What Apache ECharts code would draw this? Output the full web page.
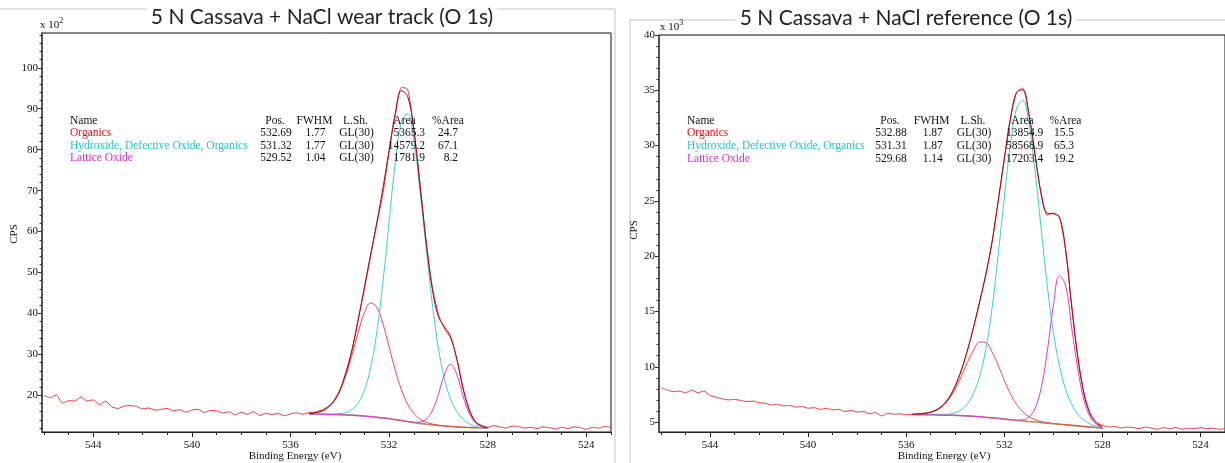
<!DOCTYPE html>
<html><head><meta charset="utf-8">
<script src="https://cdn.jsdelivr.net/npm/echarts@6/dist/echarts.min.js"></script>
<style>html,body{margin:0;padding:0;background:#fff;}#c{width:1225px;height:463px;}</style>
</head><body><div id="c"></div>
<script>
// ---------------- DATA ----------------
const titles = ['5 N Cassava + NaCl wear track (O 1s)', '5 N Cassava + NaCl reference (O 1s)'];
const energyTicks = [544, 540, 536, 532, 528, 524];
const wearYTicks = [20, 30, 40, 50, 60, 70, 80, 90, 100];
const refYTicks = [5, 10, 15, 20, 25, 30, 35, 40];

// raw spectrum energies (eV), shared by both panels
const rawEnergy = [546.0,545.75,545.5,545.25,545.0,544.75,544.5,544.25,544.0,543.75,
  543.5,543.25,543.0,542.75,542.5,542.25,542.0,541.75,541.5,541.25,
  541.0,540.75,540.5,540.25,540.0,539.75,539.5,539.25,539.0,538.75,
  538.5,538.25,538.0,537.75,537.5,537.25,537.0,536.75,536.5,536.25,
  536.0,535.75,535.5,535.25,535.0,534.75,534.5,534.25,534.0,533.75,
  533.5,533.25,533.0,532.75,532.5,532.25,532.0,531.75,531.5,531.25,
  531.0,530.75,530.5,530.25,530.0,529.75,529.5,529.25,529.0,528.75,
  528.5,528.25,528.0,527.75,527.5,527.25,527.0,526.75,526.5,526.25,
  526.0,525.75,525.5,525.25,525.0,524.75,524.5,524.25,524.0,523.75,
  523.5,523.25,523.0];
// wear track raw CPS (x 10^2)
const wearRaw = [20.0,19.4,20.1,18.1,18.7,18.6,19.6,18.6,18.9,17.7,
  18.6,17.2,16.8,17.4,17.5,17.3,16.7,16.9,16.4,16.6,
  16.8,16.2,16.5,15.9,16.4,16.6,15.8,16.3,16.2,15.7,
  16.0,15.2,15.9,15.4,16.0,15.1,15.6,15.3,15.6,15.0,
  15.5,15.7,15.4,15.8,15.9,16.4,17.2,18.4,21.0,25.8,
  31.0,38.8,46.0,54.0,61.8,69.3,79.5,88.5,95.2,94.8,
  85.2,72.0,57.5,46.5,39.8,36.2,34.0,28.9,21.5,16.6,
  13.5,12.7,12.2,12.6,12.3,12.0,12.5,12.4,12.0,12.2,
  11.9,12.3,12.1,11.8,12.2,11.9,12.3,12.1,11.7,12.2,
  12.0,12.4,12.2];
// reference raw CPS (x 10^3)
const refRaw = [8.1,7.9,7.75,7.8,7.65,7.9,7.65,7.8,7.4,7.25,
  7.1,7.0,7.05,6.95,6.85,6.9,6.75,6.7,6.55,6.6,
  6.45,6.5,6.35,6.4,6.25,6.3,6.15,6.25,6.1,6.15,
  5.95,6.05,5.9,5.95,5.75,5.85,5.55,5.8,5.7,5.75,
  5.65,5.7,5.75,5.8,5.9,6.15,6.55,7.25,8.3,9.7,
  11.5,13.6,15.9,18.4,21.3,25.0,28.8,32.4,34.8,35.2,
  32.9,29.3,25.6,23.7,23.9,23.5,20.6,15.5,10.9,7.6,
  5.8,5.0,4.7,4.55,4.6,4.45,4.55,4.5,4.4,4.55,
  4.45,4.35,4.5,4.4,4.5,4.35,4.45,4.4,4.5,4.4,
  4.45,4.35,4.4];

// wear track fit region
const wearFitEnergy = [535.25,535.0,534.75,534.5,534.25,534.0,533.75,533.5,533.25,533.0,
  532.75,532.5,532.25,532.0,531.75,531.5,531.25,531.0,530.75,530.5,
  530.25,530.0,529.75,529.5,529.25,529.0,528.75,528.5,528.25,528.0];
const wearBackground = [15.45,15.4,15.37,15.35,15.32,15.3,15.22,15.15,15.05,14.95,
  14.8,14.65,14.48,14.3,14.08,13.85,13.6,13.35,13.15,12.95,
  12.8,12.65,12.52,12.4,12.3,12.2,12.15,12.1,12.07,12.05];
const wearOrganics = [15.6,15.74,16.13,16.95,18.51,21.1,24.91,29.95,35.45,40.25,
  42.55,41.45,37.44,31.8,26.08,21.35,17.89,15.61,14.25,13.45,
  13.01,12.73,12.55,12.41,12.3,12.2,12.15,12.1,12.07,12.05];
const wearHydroxide = [15.45,15.4,15.38,15.38,15.42,15.54,15.8,16.55,18.15,21.25,
  26.7,35.45,47.7,62.4,76.9,86.9,88.7,82.5,70.0,56.0,
  42.5,31.5,24.0,19.0,16.0,14.2,13.0,12.4,12.15,12.05];
const wearLattice = [15.45,15.4,15.37,15.35,15.32,15.3,15.22,15.15,15.05,14.95,
  14.8,14.65,14.48,14.3,14.08,13.85,13.61,13.43,13.5,14.15,
  16.21,20.25,25.22,27.6,25.0,19.8,15.56,13.3,12.41,12.13];
const wearEnvelope = [15.6,15.74,16.14,16.98,18.61,21.34,25.49,31.35,38.55,46.55,
  54.45,62.25,70.66,79.9,88.9,94.4,93.0,84.84,71.45,57.7,
  46.12,39.18,36.73,34.21,28.7,21.8,16.41,13.6,12.49,12.13];

// reference fit region
const refFitEnergy = [535.75,535.5,535.25,535.0,534.75,534.5,534.25,534.0,533.75,533.5,
  533.25,533.0,532.75,532.5,532.25,532.0,531.75,531.5,531.25,531.0,
  530.75,530.5,530.25,530.0,529.75,529.5,529.25,529.0,528.75,528.5,
  528.25,528.0];
const refBackground = [5.68,5.67,5.67,5.66,5.65,5.63,5.62,5.6,5.58,5.55,
  5.52,5.48,5.43,5.38,5.33,5.27,5.21,5.15,5.1,5.05,
  5.0,4.95,4.9,4.85,4.8,4.75,4.7,4.65,4.6,4.55,
  4.5,4.45];
const refOrganics = [5.70,5.72,5.78,5.89,6.10,6.48,7.10,7.98,9.14,10.41,
  11.51,12.24,12.18,11.34,10.15,8.78,7.56,6.60,5.94,5.50,
  5.22,5.05,4.95,4.87,4.80,4.75,4.70,4.65,4.60,4.55,
  4.50,4.45];
const refHydroxide = [5.68,5.67,5.67,5.66,5.66,5.66,5.72,5.85,6.13,6.65,
  7.62,9.18,11.63,15.28,20.13,25.27,30.11,33.35,34.1,32.05,
  27.8,22.55,17.4,13.15,10.1,7.95,6.6,5.7,5.15,4.83,
  4.63,4.5];
const refLattice = [5.68,5.67,5.67,5.66,5.65,5.63,5.62,5.6,5.58,5.55,
  5.52,5.48,5.43,5.38,5.33,5.27,5.21,5.17,5.2,5.44,
  6.2,8.03,11.34,15.51,18.24,17.33,13.52,9.75,7.0,5.45,
  4.8,4.53];
const refEnvelope = [5.70,5.72,5.78,5.89,6.10,6.51,7.20,8.23,9.69,11.51,
  13.61,15.94,18.38,21.24,24.95,28.78,32.46,34.82,35.04,32.89,
  29.22,25.73,23.89,23.83,23.54,20.53,15.42,10.80,7.55,5.73,
  4.93,4.58];

// peak table
const tableHeader = ['Name', 'Pos.', 'FWHM', 'L.Sh.', 'Area', '%Area'];
const componentNames = ['Organics', 'Hydroxide, Defective Oxide, Organics', 'Lattice Oxide'];
const wearPos = ['532.69', '531.32', '529.52'];
const wearFwhm = ['1.77', '1.77', '1.04'];
const wearShape = ['GL(30)', 'GL(30)', 'GL(30)'];
const wearArea = ['5365.3', '14579.2', '1781.9'];
const wearPct = ['24.7', '67.1', '8.2'];
const refPos = ['532.88', '531.31', '529.68'];
const refFwhm = ['1.87', '1.87', '1.14'];
const refShape = ['GL(30)', 'GL(30)', 'GL(30)'];
const refArea = ['13854.9', '58568.9', '17203.4'];
const refPct = ['15.5', '65.3', '19.2'];

// ---------------- STYLE ----------------
const C = {
  raw: '#ee3a3a', env: '#9a0d0d', org: '#f04a4a', hyd: '#38d0d4', lat: '#d83ad8', bg: '#b58a5e',
  txtOrg: '#e81010', txtHyd: '#22c4c8', txtLat: '#d22ed2'
};
const SERIF = '"Liberation Serif","Times New Roman",serif';
const pairs = (xs, ys) => xs.map((x, i) => [x, ys[i]]);
const range = (a, b, s) => { const r = []; for (let v = a; v <= b + 1e-9; v += s) r.push(+v.toFixed(3)); return r; };

const XMIN = 523, XMAX = 546.08;
function xAxes(grid) {
  return [
    { type: 'value', gridIndex: grid, position: 'bottom', min: XMIN, max: XMAX, inverse: true,
      axisLine: { show: true, onZero: false, lineStyle: { color: '#222', width: 1 } },
      axisTick: { show: true, length: 5, customValues: energyTicks, lineStyle: { color: '#222' } },
      axisLabel: { show: true, customValues: energyTicks, color: '#111', fontFamily: SERIF, fontSize: 11, margin: 8 },
      splitLine: { show: false } },
    { type: 'value', gridIndex: grid, position: 'bottom', min: XMIN, max: XMAX, inverse: true,
      axisLine: { show: false, onZero: false },
      axisTick: { show: true, length: 3, customValues: range(523, 546, 1), lineStyle: { color: '#222' } },
      axisLabel: { show: false }, splitLine: { show: false } }
  ];
}
function yAxes(grid, min, max, majors, minorStep) {
  return [
    { type: 'value', gridIndex: grid, position: 'left', min: min, max: max,
      axisLine: { show: true, onZero: false, lineStyle: { color: '#444', width: 1.5 } },
      axisTick: { show: true, length: 4, customValues: majors, lineStyle: { color: '#333' } },
      axisLabel: { show: true, customValues: majors, color: '#111', fontFamily: SERIF, fontSize: 11, margin: 4 },
      splitLine: { show: false } },
    { type: 'value', gridIndex: grid, position: 'left', min: min, max: max,
      axisLine: { show: false, onZero: false },
      axisTick: { show: true, length: 2.5, customValues: range(Math.ceil(min / minorStep) * minorStep, max, minorStep), lineStyle: { color: '#333' } },
      axisLabel: { show: false }, splitLine: { show: false } }
  ];
}
function line(name, xi, yi, data, color, width, z, smooth) {
  return { name, type: 'line', xAxisIndex: xi, yAxisIndex: yi, data, showSymbol: false, symbol: 'none',
    smooth: smooth, lineStyle: { color, width }, itemStyle: { color }, z, clip: true, silent: true };
}
function panelSeries(xi, yi, fitE, bg, org, hyd, lat, env, raw) {
  return [
    line('Background', xi, yi, pairs(fitE, bg), C.bg, 1.6, 2, 0.3),
    line('Organics', xi, yi, pairs(fitE, org), C.org, 1, 3, 0.4),
    line('Hydroxide', xi, yi, pairs(fitE, hyd), C.hyd, 1, 3, 0.4),
    line('Lattice', xi, yi, pairs(fitE, lat), C.lat, 1, 3, 0.4),
    line('Raw', xi, yi, pairs(rawEnergy, raw), C.raw, 1, 4, 0.2),
    line('Envelope', xi, yi, pairs(fitE, env), C.env, 1, 5, 0.4)
  ];
}
function tableEls(cfg, pos, fwhm, shape, area, pct) {
  const els = [];
  const font = '11.5px ' + SERIF;
  const t = (x, y, text, align, fill) => els.push({ type: 'text', x, y, z: 50,
    style: { text, font, fill, textAlign: align, textVerticalAlign: 'middle' } });
  const ys = cfg.rows;
  t(cfg.name, ys[0], tableHeader[0], 'left', '#111');
  t(cfg.pos, ys[0], tableHeader[1], 'center', '#111');
  t(cfg.fwhm, ys[0], tableHeader[2], 'center', '#111');
  t(cfg.lsh, ys[0], tableHeader[3], 'center', '#111');
  t(cfg.areaH, ys[0], tableHeader[4], 'center', '#111');
  t(cfg.pctH, ys[0], tableHeader[5], 'center', '#111');
  const cols = [C.txtOrg, C.txtHyd, C.txtLat];
  for (let i = 0; i < 3; i++) {
    const y = ys[i + 1];
    t(cfg.name, y, componentNames[i], 'left', cols[i]);
    t(cfg.pos + 1, y, pos[i], 'center', '#111');
    t(cfg.fwhm + 1, y, fwhm[i], 'center', '#111');
    t(cfg.lsh + 1, y, shape[i], 'center', '#111');
    t(cfg.areaR, y, area[i], 'right', '#111');
    t(cfg.pctR, y, pct[i], 'right', '#111');
  }
  return els;
}

const chart = echarts.init(document.getElementById('c'), null, { renderer: 'canvas' });
const graphic = [
  // panel frames
  { type: 'polyline', z: 1, shape: { points: [[0, 9], [615, 9], [615, 463]] }, style: { stroke: '#c4c4c4', fill: null, lineWidth: 1 } },
  { type: 'polyline', z: 1, shape: { points: [[630, 463], [630, 20], [1225, 20]] }, style: { stroke: '#c4c4c4', fill: null, lineWidth: 1 } },
  // titles
  { type: 'text', x: 322, y: 17, z: 60, style: { text: titles[0], font: '21px Lato, "Open Sans", sans-serif', fill: '#222', textAlign: 'center', textVerticalAlign: 'middle', backgroundColor: '#fff', padding: [0, 4] } },
  { type: 'text', x: 906, y: 18, z: 60, style: { text: titles[1], font: '21px Lato, "Open Sans", sans-serif', fill: '#222', textAlign: 'center', textVerticalAlign: 'middle', backgroundColor: '#fff', padding: [0, 4] } },
  // exponent labels
  { type: 'text', x: 40, y: 31, z: 60, style: { text: '{a|x 10}{b|2}', rich: { a: { font: '11px ' + SERIF, fill: '#111', verticalAlign: 'bottom' }, b: { font: '8px ' + SERIF, fill: '#111', verticalAlign: 'top', padding: [0, 0, 6, 0] } }, textVerticalAlign: 'bottom' } },
  { type: 'text', x: 660, y: 33, z: 60, style: { text: '{a|x 10}{b|3}', rich: { a: { font: '11px ' + SERIF, fill: '#111', verticalAlign: 'bottom' }, b: { font: '8px ' + SERIF, fill: '#111', verticalAlign: 'top', padding: [0, 0, 6, 0] } }, textVerticalAlign: 'bottom' } },
  // axis titles
  { type: 'text', x: 14, y: 234, rotation: Math.PI / 2, z: 60, style: { text: 'CPS', font: '11px ' + SERIF, fill: '#111', textAlign: 'center', textVerticalAlign: 'middle' } },
  { type: 'text', x: 634, y: 230, rotation: Math.PI / 2, z: 60, style: { text: 'CPS', font: '11px ' + SERIF, fill: '#111', textAlign: 'center', textVerticalAlign: 'middle' } },
  { type: 'text', x: 295, y: 456, z: 60, style: { text: 'Binding Energy (eV)', font: '11px ' + SERIF, fill: '#111', textAlign: 'center', textVerticalAlign: 'middle' } },
  { type: 'text', x: 944, y: 456, z: 60, style: { text: 'Binding Energy (eV)', font: '11px ' + SERIF, fill: '#111', textAlign: 'center', textVerticalAlign: 'middle' } }
].concat(
  tableEls({ name: 70, pos: 275, fwhm: 314.5, lsh: 355.5, areaH: 404.5, areaR: 425, pctH: 448, pctR: 458, rows: [120.5, 133, 145.6, 158.3] },
    wearPos, wearFwhm, wearShape, wearArea, wearPct),
  tableEls({ name: 687, pos: 890, fwhm: 931.7, lsh: 973, areaH: 1022.5, areaR: 1043.3, pctH: 1065.5, pctR: 1074, rows: [120.7, 133.3, 146, 158.7] },
    refPos, refFwhm, refShape, refArea, refPct)
);

chart.setOption({
  animation: false,
  backgroundColor: '#fff',
  grid: [
    { left: 42, top: 33, width: 569, height: 399, show: true, borderColor: '#111', borderWidth: 1, backgroundColor: 'transparent' },
    { left: 659, top: 35, width: 569, height: 397, show: true, borderColor: '#111', borderWidth: 1, backgroundColor: 'transparent' }
  ],
  xAxis: xAxes(0).concat(xAxes(1)),
  yAxis: yAxes(0, 11.05, 108.5, wearYTicks, 2).concat(yAxes(1, 4.1, 40, refYTicks, 1)),
  series: panelSeries(0, 0, wearFitEnergy, wearBackground, wearOrganics, wearHydroxide, wearLattice, wearEnvelope, wearRaw)
    .concat(panelSeries(2, 2, refFitEnergy, refBackground, refOrganics, refHydroxide, refLattice, refEnvelope, refRaw)),
  graphic: graphic
});
</script>
</body></html>
